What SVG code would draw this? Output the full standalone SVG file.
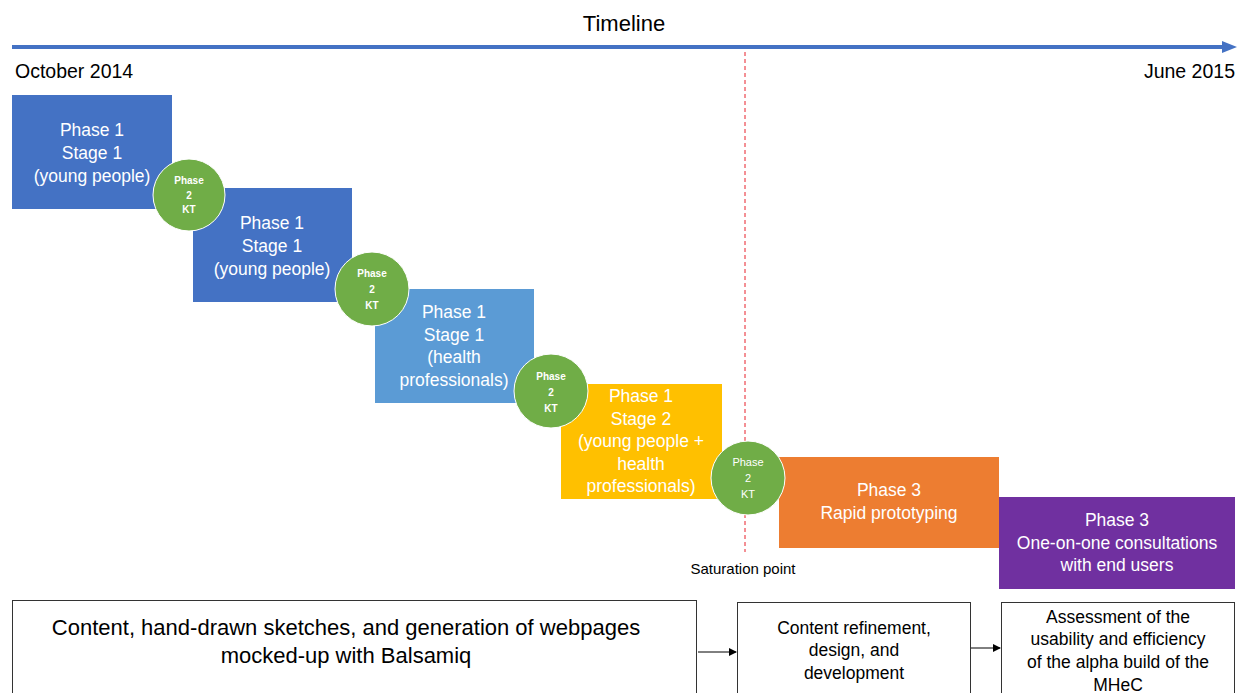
<svg xmlns="http://www.w3.org/2000/svg" width="1238" height="693" viewBox="0 0 1238 693">
<style>
text{font-family:"Liberation Sans","Open Sans",sans-serif;}
.w{fill:#fff;font-size:17.5px;text-anchor:middle;}
.kt{fill:#fff;font-size:10px;text-anchor:middle;font-weight:bold;}
.ktn{fill:#fff;font-size:11px;text-anchor:middle;}
.b{fill:#000;text-anchor:middle;}
.s{font-size:17.5px;}
.circ{fill:#70AD47;stroke:#fff;stroke-width:1;}
.frame{fill:#fff;stroke:#333;stroke-width:1;}
</style>
<defs>
<marker id="ah" markerWidth="8" markerHeight="8" refX="7" refY="4" orient="auto" markerUnits="userSpaceOnUse">
<path d="M0,0 L8,4 L0,8 z" fill="#000"/>
</marker>
</defs>
<rect width="1238" height="693" fill="#fff"/>
<g id="timeline">
<text x="624" y="31" class="b" style="font-size:22px">Timeline</text>
<line x1="12" y1="47" x2="1224" y2="47" stroke="#4472C4" stroke-width="4"/>
<path d="M1222,41 L1237,47 L1222,53 z" fill="#4472C4"/>
<text x="15" y="78" style="font-size:19.5px" fill="#000">October 2014</text>
<text x="1235" y="78" style="font-size:19.5px;text-anchor:end" fill="#000">June 2015</text>
</g>
<g id="saturation">
<line x1="745" y1="52" x2="745" y2="552" stroke="#E8202A" stroke-width="1" stroke-dasharray="4,3"/>
<text x="743" y="574" class="b" style="font-size:15px">Saturation point</text>
</g>
<g id="box1">
<rect x="12" y="95" width="160" height="114" fill="#4472C4"/>
<text class="w" x="92" y="136">Phase 1</text>
<text class="w" x="92" y="159">Stage 1</text>
<text class="w" x="92" y="182">(young people)</text>
</g>
<g id="box2">
<rect x="193" y="188" width="159" height="114" fill="#4472C4"/>
<text class="w" x="272" y="229">Phase 1</text>
<text class="w" x="272" y="252">Stage 1</text>
<text class="w" x="272" y="275">(young people)</text>
</g>
<g id="box3">
<rect x="375" y="289" width="159" height="114" fill="#5B9BD5"/>
<text class="w" x="454" y="318">Phase 1</text>
<text class="w" x="454" y="341">Stage 1</text>
<text class="w" x="454" y="363">(health</text>
<text class="w" x="454" y="386">professionals)</text>
</g>
<g id="box4">
<rect x="561" y="384" width="161" height="115" fill="#FFC000"/>
<text class="w" x="641" y="402">Phase 1</text>
<text class="w" x="641" y="425">Stage 2</text>
<text class="w" x="641" y="447">(young people +</text>
<text class="w" x="641" y="470">health</text>
<text class="w" x="641" y="492">professionals)</text>
</g>
<g id="box5">
<rect x="779" y="457" width="220" height="91" fill="#ED7D31"/>
<text class="w" x="889" y="496">Phase 3</text>
<text class="w" x="889" y="519">Rapid prototyping</text>
</g>
<g id="box6">
<rect x="999" y="497" width="236" height="92" fill="#7030A0"/>
<text class="w" x="1117" y="526">Phase 3</text>
<text class="w" x="1117" y="549">One-on-one consultations</text>
<text class="w" x="1117" y="571">with end users</text>
</g>
<g id="kt1">
<circle class="circ" cx="189" cy="195" r="36"/>
<text class="kt" x="189" y="184">Phase</text>
<text class="kt" x="189" y="199">2</text>
<text class="kt" x="189" y="213">KT</text>
</g>
<g id="kt2">
<circle class="circ" cx="372" cy="289" r="37"/>
<text class="kt" x="372" y="277">Phase</text>
<text class="kt" x="372" y="293">2</text>
<text class="kt" x="372" y="309">KT</text>
</g>
<g id="kt3">
<circle class="circ" cx="551" cy="391" r="37"/>
<text class="kt" x="551" y="380">Phase</text>
<text class="kt" x="551" y="396">2</text>
<text class="kt" x="551" y="412">KT</text>
</g>
<g id="kt4">
<circle class="circ" cx="748" cy="478" r="37"/>
<text class="ktn" x="748" y="466">Phase</text>
<text class="ktn" x="748" y="482">2</text>
<text class="ktn" x="748" y="498">KT</text>
</g>
<g id="stepA">
<rect class="frame" x="12.5" y="600.5" width="684" height="100"/>
<text class="b" x="346" y="635" style="font-size:22px">Content, hand-drawn sketches, and generation of webpages</text>
<text class="b" x="346" y="663" style="font-size:22px">mocked-up with Balsamiq</text>
</g>
<g id="stepB">
<rect class="frame" x="737.5" y="602.5" width="233" height="100"/>
<text class="b s" x="854" y="634">Content refinement,</text>
<text class="b s" x="854" y="656">design, and</text>
<text class="b s" x="854" y="679">development</text>
</g>
<g id="stepC">
<rect class="frame" x="1001.5" y="602.5" width="233" height="100"/>
<text class="b s" x="1118" y="623">Assessment of the</text>
<text class="b s" x="1118" y="645">usability and efficiency</text>
<text class="b s" x="1118" y="668">of the alpha build of the</text>
<text class="b s" x="1118" y="691">MHeC</text>
</g>
<g id="connectors">
<line x1="698" y1="652" x2="736" y2="652" stroke="#000" stroke-width="1" marker-end="url(#ah)"/>
<line x1="971" y1="648" x2="1000" y2="648" stroke="#000" stroke-width="1" marker-end="url(#ah)"/>
</g>
</svg>
